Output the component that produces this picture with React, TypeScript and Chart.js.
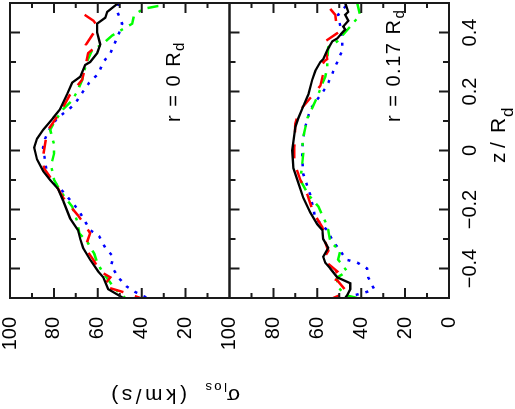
import React, { useEffect, useRef } from "react";
import { Chart, registerables } from "chart.js";

Chart.register(...registerables);

const FONT = "'Liberation Sans', Arial, Helvetica, sans-serif";
const W = 409;
const H = 515;

// axis ticks
const zLabelTicks = [-0.4, -0.2, 0, 0.2, 0.4];
const zMinorTicks = [-0.4, -0.3, -0.2, -0.1, 0, 0.1, 0.2, 0.3, 0.4];
const sigmaLabelTicks = [0, 20, 40, 60, 80, 100];
const sigmaMinorTicks = [10, 20, 30, 40, 50, 60, 70, 80, 90];

// ---- panel r = 0 R_d ----
const blackZ0 = [0.5, 0.47, 0.45, 0.43, 0.4, 0.36, 0.33, 0.3, 0.29, 0.25, 0.23, 0.19, 0.14, 0.11, 0.07, 0.04, 0.01, -0.03, -0.07, -0.1, -0.13, -0.17, -0.23, -0.27, -0.3, -0.33, -0.37, -0.41, -0.43, -0.47, -0.49, -0.5];
const blackS0 = [50.7, 55.7, 56.6, 60.3, 60.3, 58.9, 60.3, 63.5, 65.8, 68.0, 71.7, 74.0, 77.2, 80.4, 84.9, 87.7, 89.0, 87.7, 84.9, 81.7, 78.1, 75.8, 72.6, 69.0, 68.0, 66.7, 63.5, 59.8, 57.5, 55.3, 50.7, 48.4];

const redZ0 = [0.46, 0.44, 0.42, 0.36, 0.35, 0.33, 0.28, 0.24, 0.19, 0.14, 0.07, 0.04, -0.02, -0.06, -0.13, -0.16, -0.22, -0.28, -0.33, -0.37, -0.41, -0.43, -0.46, -0.48, -0.5];
const redS0 = [66.0, 62.0, 60.0, 65.3, 61.2, 64.4, 65.8, 67.1, 72.6, 76.3, 82.6, 83.6, 84.9, 84.5, 78.1, 75.8, 69.0, 63.5, 65.8, 62.1, 58.9, 54.3, 57.5, 48.4, 40.6];

const greenZ0 = [0.49, 0.48, 0.46, 0.43, 0.41, 0.39, 0.36, 0.34, 0.31, 0.28, 0.24, 0.2, 0.17, 0.14, 0.1, 0.07, 0.02, -0.01, -0.05, -0.1, -0.13, -0.16, -0.19, -0.24, -0.28, -0.31, -0.35, -0.38, -0.41, -0.47, -0.5];
const greenS0 = [32.4, 39.3, 43.4, 44.3, 48.9, 53.4, 58.0, 62.6, 64.4, 65.8, 67.1, 69.4, 71.7, 75.8, 79.5, 81.7, 79.9, 79.9, 81.3, 79.9, 77.6, 74.9, 71.7, 69.4, 68.5, 64.8, 61.6, 60.3, 58.0, 52.1, 47.5];

const blueZ0 = [0.5, 0.47, 0.43, 0.4, 0.36, 0.33, 0.3, 0.26, 0.23, 0.2, 0.16, 0.14, 0.11, 0.07, 0.04, 0.01, -0.08, -0.11, -0.14, -0.2, -0.24, -0.27, -0.29, -0.33, -0.36, -0.39, -0.43, -0.46, -0.48, -0.5];
const blueS0 = [50.5, 51.1, 48.9, 50.2, 52.5, 54.3, 57.5, 59.8, 63.9, 66.7, 70.3, 73.1, 78.5, 82.2, 84.0, 84.9, 83.1, 79.5, 75.8, 69.0, 65.8, 63.5, 59.4, 56.6, 53.0, 53.9, 50.7, 47.0, 42.9, 37.4];

// ---- panel r = 0.17 R_d ----
const blackZ1 = [0.5, 0.47, 0.46, 0.44, 0.42, 0.41, 0.4, 0.38, 0.37, 0.34, 0.31, 0.3, 0.27, 0.24, 0.19, 0.15, 0.11, 0.08, 0.03, 0.0, -0.06, -0.1, -0.16, -0.21, -0.25, -0.27, -0.3, -0.33, -0.36, -0.38, -0.4, -0.43, -0.45, -0.47, -0.49, -0.5];
const blackS1 = [47.3, 45.9, 47.3, 45.9, 48.2, 47.3, 48.6, 50.9, 53.2, 55.5, 57.3, 58.6, 60.9, 62.3, 64.1, 66.4, 68.6, 70.0, 70.9, 71.4, 70.9, 69.1, 66.4, 63.2, 60.0, 57.7, 57.3, 55.0, 57.3, 56.4, 54.1, 50.9, 45.0, 45.0, 46.4, 47.3];

const redZ1 = [0.48, 0.46, 0.43, 0.4, 0.37, 0.31, 0.3, 0.29, 0.22, 0.19, 0.13, 0.09, 0.01, -0.04, -0.1, -0.15, -0.21, -0.26, -0.31, -0.34, -0.37, -0.41, -0.43, -0.44, -0.48, -0.5];
const redS1 = [54.1, 51.8, 51.4, 50.5, 56.4, 55.5, 57.3, 56.4, 58.6, 61.8, 68.6, 70.0, 70.5, 70.5, 67.7, 64.5, 61.8, 57.7, 56.4, 55.0, 57.3, 50.9, 54.1, 50.9, 46.4, 52.7];

const greenZ1 = [0.5, 0.46, 0.42, 0.37, 0.35, 0.31, 0.28, 0.25, 0.21, 0.19, 0.13, 0.11, 0.03, -0.01, -0.04, -0.1, -0.15, -0.19, -0.24, -0.27, -0.31, -0.34, -0.37, -0.41, -0.43, -0.46, -0.49, -0.5];
const greenS1 = [41.8, 40.5, 45.0, 50.9, 55.0, 55.5, 55.5, 56.4, 58.6, 59.5, 63.2, 64.5, 66.8, 66.4, 66.8, 67.7, 64.1, 59.5, 56.4, 55.0, 54.1, 49.5, 50.5, 46.4, 50.9, 50.9, 47.3, 41.8];

const blueZ1 = [0.49, 0.46, 0.44, 0.38, 0.34, 0.3, 0.26, 0.23, 0.2, 0.14, 0.08, 0.04, 0.01, -0.04, -0.08, -0.15, -0.23, -0.27, -0.31, -0.34, -0.37, -0.38, -0.4, -0.43, -0.47, -0.48, -0.49, -0.5];
const blueS1 = [47.0, 50.5, 50.0, 48.6, 48.6, 50.9, 53.2, 55.0, 57.3, 63.2, 65.5, 66.4, 66.8, 66.8, 66.4, 63.2, 60.9, 55.5, 52.7, 49.5, 46.8, 41.8, 37.3, 36.8, 34.1, 37.7, 42.7, 47.3];

function pts(zs: number[], ss: number[]) {
  return zs.map((z, i) => ({ x: z, y: ss[i] }));
}

function makeSet(zs: number[], ss: number[], color: string, dash: number[], axis: string, cap: string = "butt") {
  return {
    data: pts(zs, ss),
    yAxisID: axis,
    showLine: true,
    borderColor: color,
    backgroundColor: color,
    borderWidth: color === "#000000" ? 2.3 : 2.5,
    borderDash: dash,
    borderCapStyle: cap,
    pointRadius: 0,
    pointHoverRadius: 0,
    fill: false,
    tension: 0,
  };
}

const DASH_RED = [14, 12];
const DASH_GREEN = [11, 7, 3, 7];
const DASH_BLUE = [3, 7];

function text(ctx: CanvasRenderingContext2D, s: string, x: number, y: number, size: number, spacing = 0) {
  ctx.font = `${size}px ${FONT}`;
  (ctx as any).letterSpacing = `${spacing}px`;
  ctx.fillText(s, x, y);
  const w = ctx.measureText(s).width;
  (ctx as any).letterSpacing = "0px";
  return w;
}

const framePlugin = {
  id: "frame",
  afterDatasetsDraw(chart: any) {
    const ctx: CanvasRenderingContext2D = chart.ctx;
    const xs = chart.scales.x;
    const yT = chart.scales.yT;
    const yB = chart.scales.yB;
    const L = chart.chartArea.left;
    const R = chart.chartArea.right;
    ctx.save();
    ctx.strokeStyle = "#1a1a1a";
    ctx.lineWidth = 2;
    for (const ys of [yT, yB]) {
      ctx.strokeRect(L, ys.top, R - L, ys.bottom - ys.top);
    }
    ctx.lineWidth = 2;
    ctx.beginPath();
    for (const ys of [yT, yB]) {
      for (const v of sigmaMinorTicks) {
        const p = ys.getPixelForValue(v);
        const len = v % 20 === 0 ? 10 : 5;
        ctx.moveTo(L, p);
        ctx.lineTo(L + len, p);
        ctx.moveTo(R, p);
        ctx.lineTo(R - len, p);
      }
    }
    for (const v of zMinorTicks) {
      const p = xs.getPixelForValue(v);
      const major = zLabelTicks.some((t) => Math.abs(t - v) < 1e-6);
      const len = major ? 10 : 6;
      ctx.moveTo(p, yT.top);
      ctx.lineTo(p, yT.top + len);
      ctx.moveTo(p, yB.top);
      ctx.lineTo(p, yB.top + len);
      ctx.moveTo(p, yB.bottom);
      ctx.lineTo(p, yB.bottom - len);
    }
    ctx.stroke();
    ctx.restore();
  },
  afterDraw(chart: any) {
    const ctx: CanvasRenderingContext2D = chart.ctx;
    ctx.save();
    ctx.fillStyle = "#000";
    ctx.textAlign = "left";
    ctx.textBaseline = "alphabetic";
    // panel labels
    let w = text(ctx, "r = 0 R", 287, 180, 20, 1.5);
    text(ctx, "d", 287 + w, 184, 15);
    w = text(ctx, "r = 0.17 R", 287, 400, 20, 1.5);
    text(ctx, "d", 287 + w, 404, 15);
    // z axis title
    text(ctx, "z", 246, 505, 21);
    text(ctx, "/", 261, 505, 21);
    text(ctx, "R", 276, 505, 21);
    text(ctx, "d", 292, 513, 17);
    // sigma axis title (rotated)
    ctx.translate(20, 240);
    ctx.rotate(-Math.PI / 2);
    text(ctx, "\u03c3", 0, 0, 21);
    text(ctx, "los", 13, 6, 13, 2.5);
    text(ctx, "(km/s)", 53, 0, 21, 3.5);
    ctx.restore();
  },
};

function yScale(hideZero: boolean) {
  return {
    type: "linear",
    position: "left",
    stack: "panels",
    stackWeight: 1,
    min: 0,
    max: 100,
    grid: { display: false, drawTicks: false },
    border: { display: false },
    ticks: {
      color: "#000",
      font: { family: FONT, size: 20 },
      padding: 19,
      autoSkip: false,
      callback: (v: number) => (hideZero && v === 0 ? "" : String(v)),
    },
    afterBuildTicks: (s: any) => {
      s.ticks = sigmaLabelTicks.map((v) => ({ value: v }));
    },
    afterFit: (s: any) => {
      s.width = 111;
      s.paddingTop = 0;
      s.paddingBottom = 0;
    },
  };
}

export default function App() {
  const ref = useRef<HTMLCanvasElement>(null);
  useEffect(() => {
    const chart = new Chart(ref.current as HTMLCanvasElement, {
      type: "scatter",
      data: {
        datasets: [
          makeSet(blackZ0, blackS0, "#000000", [], "yT"),
          makeSet(redZ0, redS0, "#ff0000", DASH_RED, "yT"),
          makeSet(greenZ0, greenS0, "#00ff00", DASH_GREEN, "yT"),
          makeSet(blueZ0, blueS0, "#0000ff", DASH_BLUE, "yT"),
          makeSet(blackZ1, blackS1, "#000000", [], "yB"),
          makeSet(redZ1, redS1, "#ff0000", DASH_RED, "yB"),
          makeSet(greenZ1, greenS1, "#00ff00", DASH_GREEN, "yB"),
          makeSet(blueZ1, blueS1, "#0000ff", DASH_BLUE, "yB"),
        ] as any,
      },
      options: {
        responsive: false,
        animation: false,
        devicePixelRatio: 1,
        events: [],
        layout: { padding: { top: 10, right: 3, left: 0, bottom: 0 } },
        plugins: { legend: { display: false }, tooltip: { enabled: false } },
        scales: {
          x: {
            type: "linear",
            position: "bottom",
            min: -0.5,
            max: 0.5,
            grid: { display: false, drawTicks: false },
            border: { display: false },
            ticks: {
              color: "#000",
              font: { family: FONT, size: 20 },
              padding: 9,
              maxRotation: 0,
              minRotation: 0,
              autoSkip: false,
              callback: (v: number) => {
                const r = Math.round(v * 10) / 10;
                if (r === 0) return "0";
                return (r < 0 ? "\u2212" : "") + Math.abs(r).toFixed(1);
              },
            },
            afterBuildTicks: (s: any) => {
              s.ticks = zLabelTicks.map((v) => ({ value: v }));
            },
            afterFit: (s: any) => {
              s.height = H - 449;
              s.paddingLeft = 0;
              s.paddingRight = 0;
            },
          },
          yB: yScale(false),
          yT: yScale(true),
        } as any,
      },
      plugins: [framePlugin],
    });
    return () => chart.destroy();
  }, []);
  return (
    <div
      style={{
        position: "fixed",
        left: 0,
        top: 0,
        width: W,
        height: H,
        transformOrigin: "0 0",
        transform: `translate(0px, ${W}px) rotate(-90deg)`,
        background: "#fff",
      }}
    >
      <canvas ref={ref} width={W} height={H} style={{ display: "block", width: W, height: H }} />
    </div>
  );
}
